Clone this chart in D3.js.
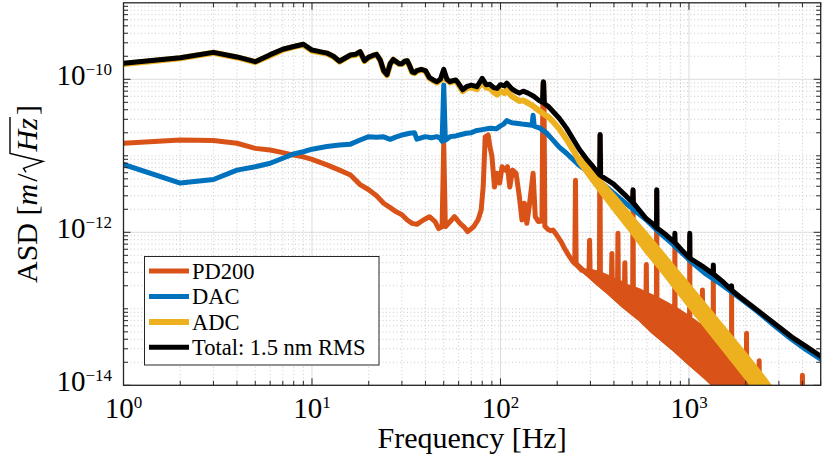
<!DOCTYPE html>
<html>
<head>
<meta charset="utf-8">
<script src="https://cdn.jsdelivr.net/npm/d3@7"></script>
<style>
  body { margin: 0; background: #fff; }
  svg, svg text { font-family: "Liberation Serif", "DejaVu Serif", "Times New Roman", Times, serif; }
</style>
</head>
<body>
<div id="chart"></div>
<script>
// legend entries and colours
const seriesNames = ['PD200', 'DAC', 'ADC', 'Total: 1.5 nm RMS'];
const seriesColors = ['#D95319', '#0072BD', '#EDB120', '#000000'];

// tick labels (10^n)
const xTickValues = [1, 10, 100, 1000];
const xTickExponents = ['0', '1', '2', '3'];
const yTickValues = [1e-14, 1e-12, 1e-10];
const yTickExponents = ['\u221214', '\u221212', '\u221210'];

// PD200 noise ASD [Hz, m/sqrt(Hz)] (lower edge above ~240 Hz)
const pd200 = [
  [1, 1.46e-11], [2, 1.61e-11], [3, 1.59e-11], [4, 1.46e-11], [5, 1.25e-11], [6, 1.19e-11],
  [7, 1.1e-11], [8, 1.02e-11], [9, 9.7e-12], [10, 9.0e-12], [12, 7.6e-12], [14, 6.5e-12],
  [16, 5.6e-12], [18, 4.2e-12], [20, 3.6e-12], [22, 3.0e-12], [24, 2.4e-12], [26, 2.1e-12],
  [28, 1.85e-12], [30, 1.7e-12], [32, 1.45e-12], [34, 1.31e-12], [36, 1.27e-12], [39, 1.45e-12],
  [42, 1.6e-12], [45, 1.38e-12], [47, 1.12e-12], [49, 1.18e-12], [50, 1.46e-11], [51, 1.18e-12],
  [55, 1.45e-12], [57, 1.6e-12], [61, 1.31e-12], [64, 1.18e-12], [67, 1.02e-12], [72, 1.18e-12],
  [76, 1.45e-12], [79, 1.95e-12], [81, 4.0e-12], [83, 1.77e-11], [86, 1.87e-11], [88, 1.3e-11],
  [90, 1.0e-11], [93, 3.9e-12], [96, 5.9e-12], [99, 4.4e-12], [102, 7.2e-12], [106, 6.5e-12],
  [109, 7.2e-12], [112, 3.9e-12], [116, 6.5e-12], [121, 5.9e-12], [126, 2.9e-12], [130, 1.45e-12],
  [134, 2.4e-12], [138, 1.31e-12], [142, 2.15e-12], [149, 5.9e-12], [153, 1.6e-12], [159, 1.38e-12],
  [166, 1.4e-12], [168, 8.9e-11], [170, 8.9e-11], [172, 1.2e-12], [178, 1.1e-12], [185, 1.05e-12],
  [190, 1.07e-12], [200, 9.0e-13], [210, 7.5e-13], [220, 6.0e-13], [230, 5.0e-13], [240, 4.3e-13],
  [270, 3.3e-13], [300, 2.65e-13], [330, 2.15e-13], [365, 1.75e-13], [400, 1.43e-13], [450, 1.1e-13],
  [500, 8.9e-14], [550, 7.4e-14], [650, 5.0e-14], [820, 3.1e-14], [1000, 2.0e-14], [1230, 1.28e-14],
  [1400, 9.5e-15], [1600, 7e-15], [2800, 2.5e-15], [3980, 2e-15], [4000, 1.35e-14], [4020, 2e-15],
  [5000, 1.5e-15]
];
// PD200 upper envelope of the fast fluctuating part, with its spikes
const pd200Peaks = [
  [240, 4.3e-13], [248, 3.9e-13], [250, 4.8e-12], [252, 3.8e-13], [270, 3.2e-13],
  [295, 3.1e-13], [297, 7.9e-13], [299, 3.1e-13], [335, 2.9e-13], [337, 1.87e-11], [339, 2.85e-13],
  [370, 2.6e-13], [388, 2.45e-13], [390, 5.3e-13], [392, 2.45e-13], [418, 2.25e-13], [420, 9.7e-13],
  [422, 2.25e-13], [455, 2.05e-13], [457, 4.0e-13], [459, 2.0e-13], [503, 1.85e-13], [505, 3.5e-12],
  [507, 1.84e-13], [550, 1.7e-13], [592, 1.55e-13], [594, 3.8e-13], [596, 1.55e-13], [672, 1.35e-13],
  [674, 3.5e-12], [676, 1.35e-13], [760, 1.15e-13], [840, 1.0e-13], [842, 8e-13], [844, 1.0e-13],
  [1008, 7.5e-14], [1010, 9e-13], [1012, 7.5e-14], [1177, 5.6e-14], [1179, 1.76e-13], [1181, 5.6e-14],
  [1345, 4.4e-14], [1347, 3.6e-13], [1349, 4.4e-14], [1682, 2.8e-14], [1684, 1.9e-13], [1686, 2.8e-14],
  [2019, 1.9e-14], [2021, 4.8e-14], [2023, 1.9e-14], [2356, 1.3e-14], [2358, 2.1e-14], [2360, 1.3e-14],
  [2800, 8.6e-15]
];

// DAC noise ASD
const dac = [
  [1, 7.7e-12], [2, 4.4e-12], [3, 4.9e-12], [4, 6.5e-12], [5, 7.2e-12], [6, 8.0e-12], [7, 9.3e-12],
  [8, 1.06e-11], [9, 1.13e-11], [10, 1.22e-11], [12, 1.32e-11], [14, 1.38e-11], [16, 1.42e-11],
  [18, 1.61e-11], [20, 1.78e-11], [22, 1.75e-11], [24, 1.77e-11], [26, 1.64e-11], [28, 1.77e-11],
  [30, 1.87e-11], [33, 1.97e-11], [35, 2.0e-11], [36, 1.65e-11], [38, 1.72e-11], [40, 1.78e-11],
  [43, 1.72e-11], [46, 1.78e-11], [48, 1.7e-11], [49, 1.55e-11], [50, 8.4e-11], [51, 1.6e-11],
  [54, 1.78e-11], [58, 1.82e-11], [62, 1.9e-11], [66, 1.97e-11], [70, 2.0e-11], [74, 2.13e-11],
  [80, 2.2e-11], [88, 2.29e-11], [95, 2.25e-11], [100, 2.46e-11], [104, 2.6e-11], [108, 2.88e-11],
  [115, 2.7e-11], [121, 2.66e-11], [130, 2.6e-11], [140, 2.55e-11], [147, 2.5e-11], [149, 3.4e-11],
  [151, 2.45e-11], [162, 2.3e-11], [175, 2.0e-11], [190, 1.6e-11], [205, 1.3e-11], [224, 1.08e-11],
  [260, 7.6e-12], [300, 5.87e-12], [350, 4.27e-12], [400, 3.22e-12], [500, 2.04e-12], [600, 1.42e-12],
  [700, 9.8e-13], [820, 7.0e-13], [1015, 4.25e-13], [1230, 2.85e-13], [1500, 2.05e-13], [1860, 1.38e-13],
  [2300, 9.3e-14], [2920, 5.7e-14], [3500, 4.0e-14], [4200, 2.9e-14], [5000, 2.2e-14]
];

// ADC noise ASD (lower edge above ~263 Hz)
const adc = [
  [1, 1.58e-10], [2, 1.88e-10], [3, 2.22e-10], [4, 1.93e-10], [5, 1.68e-10], [6, 2.05e-10],
  [7, 2.42e-10], [8, 2.65e-10], [9, 2.82e-10], [10, 2.36e-10], [11, 2.25e-10], [12, 2.17e-10],
  [13, 1.97e-10], [14, 1.7e-10], [15, 1.88e-10], [16, 2.05e-10], [17, 2.08e-10], [18, 2.27e-10],
  [19, 1.73e-10], [20, 1.93e-10], [21, 2.02e-10], [22, 2.1e-10], [23, 1.78e-10], [24, 1.28e-10],
  [25, 1.13e-10], [26, 1.58e-10], [27, 1.8e-10], [28, 1.68e-10], [29, 1.58e-10], [30, 1.58e-10],
  [31, 1.7e-10], [32, 1.73e-10], [33, 1.48e-10], [34, 1.23e-10], [35, 1.2e-10], [36, 1.28e-10],
  [38, 1.33e-10], [40, 1.28e-10], [42, 1.03e-10], [44, 9.6e-11], [46, 9.1e-11], [48, 9.8e-11],
  [50, 1.05e-10], [52, 9.8e-11], [54, 9.1e-11], [56, 9.4e-11], [58, 9.6e-11], [60, 8.5e-11],
  [63, 7.0e-11], [66, 7.6e-11], [70, 7.9e-11], [75, 7.4e-11], [80, 9.4e-11], [84, 7.8e-11],
  [88, 7.6e-11], [92, 6.8e-11], [96, 6.3e-11], [100, 7.0e-11], [105, 6.6e-11], [108, 7.2e-11],
  [115, 6.0e-11], [120, 5.6e-11], [126, 5.2e-11], [132, 5.3e-11], [140, 4.9e-11], [150, 4.4e-11],
  [160, 3.9e-11], [170, 3.5e-11], [180, 3.2e-11], [190, 2.8e-11], [205, 2.25e-11], [224, 1.65e-11],
  [245, 1.15e-11], [263, 8.4e-12], [300, 5.4e-12], [350, 3.25e-12], [400, 2.1e-12], [500, 1.04e-12],
  [600, 5.7e-13], [700, 3.6e-13], [800, 2.35e-13], [1000, 1.16e-13], [1250, 5.8e-14], [1500, 3.3e-14],
  [2000, 1.35e-14], [2500, 6.8e-15], [2800, 4.5e-15]
];
// ADC upper envelope of the fluctuating part
const adcPeaks = [
  [263, 9.2e-12], [300, 6.6e-12], [350, 4.2e-12], [400, 2.9e-12], [500, 1.5e-12], [600, 8.8e-13],
  [700, 5.6e-13], [800, 3.75e-13], [1000, 1.93e-13], [1250, 9.9e-14], [1500, 5.7e-14],
  [2000, 2.4e-14], [2500, 1.2e-14], [2800, 8e-15]
];

// total noise ASD
const total = [
  [1, 1.62e-10], [2, 1.91e-10], [3, 2.25e-10], [4, 1.96e-10], [5, 1.70e-10], [6, 2.1e-10],
  [7, 2.47e-10], [8, 2.68e-10], [9, 2.87e-10], [10, 2.41e-10], [11, 2.3e-10], [12, 2.2e-10],
  [13, 2.0e-10], [14, 1.72e-10], [15, 1.9e-10], [16, 2.08e-10], [17, 2.12e-10], [18, 2.3e-10],
  [19, 1.75e-10], [20, 1.95e-10], [21, 2.05e-10], [22, 2.12e-10], [23, 1.8e-10], [24, 1.3e-10],
  [25, 1.15e-10], [26, 1.6e-10], [27, 1.82e-10], [28, 1.7e-10], [29, 1.6e-10], [30, 1.6e-10],
  [31, 1.72e-10], [32, 1.75e-10], [33, 1.5e-10], [34, 1.25e-10], [35, 1.22e-10], [36, 1.3e-10],
  [38, 1.35e-10], [40, 1.3e-10], [42, 1.05e-10], [44, 9.8e-11], [46, 9.3e-11], [48, 1.0e-10],
  [50, 1.35e-10], [52, 1.0e-10], [54, 9.3e-11], [56, 9.6e-11], [58, 9.8e-11], [60, 8.8e-11],
  [63, 7.3e-11], [66, 8.0e-11], [70, 8.4e-11], [75, 8.0e-11], [80, 1.03e-10], [84, 8.5e-11],
  [88, 8.6e-11], [92, 7.8e-11], [96, 7.6e-11], [100, 8.5e-11], [105, 8.2e-11], [108, 8.9e-11],
  [115, 7.5e-11], [120, 7.0e-11], [126, 6.6e-11], [132, 7.0e-11], [140, 6.6e-11], [150, 6.0e-11],
  [160, 5.3e-11], [167, 5.0e-11], [169, 9.3e-11], [171, 4.8e-11], [180, 4.4e-11], [190, 3.8e-11],
  [205, 3.1e-11], [224, 2.3e-11], [245, 1.6e-11], [263, 1.2e-11], [285, 9.2e-12], [310, 7.2e-12],
  [336, 5.6e-12], [338, 1.9e-11], [340, 5.5e-12], [397, 4.3e-12], [450, 3.2e-12], [503, 2.45e-12],
  [505, 3.6e-12], [507, 2.43e-12], [550, 1.9e-12], [594, 1.5e-12], [640, 1.3e-12], [673, 1.15e-12],
  [675, 3.6e-12], [677, 1.14e-12], [750, 9.4e-13], [840, 7.4e-13], [842, 9.7e-13], [844, 7.3e-13],
  [920, 5.8e-13], [1008, 4.6e-13], [1010, 9.7e-13], [1012, 4.58e-13], [1200, 3.5e-13],
  [1345, 2.86e-13], [1347, 3.74e-13], [1349, 2.85e-13], [1500, 2.3e-13], [1682, 1.76e-13],
  [1684, 2.0e-13], [1686, 1.75e-13], [1860, 1.44e-13], [2200, 1.05e-13], [2920, 6.1e-14],
  [3500, 4.3e-14], [4200, 3.2e-14], [5000, 2.4e-14]
];

const width = 823, height = 466;
const margin = { top: 2.8, right: 2.3, bottom: 80.7, left: 123.5 };
const plotW = width - margin.left - margin.right;
const plotH = height - margin.top - margin.bottom;
const serif = '"Liberation Serif", "DejaVu Serif", "Times New Roman", serif';

const svg = d3.select('#chart').append('svg')
  .attr('width', width)
  .attr('height', height)
  .attr('font-family', serif);

const x = d3.scaleLog().domain([1, 5000]).range([margin.left, margin.left + plotW]);
const y = d3.scaleLog().domain([1e-14, 1e-9]).range([margin.top + plotH, margin.top]);

svg.append('defs').append('clipPath').attr('id', 'plot-clip')
  .append('rect')
  .attr('x', margin.left).attr('y', margin.top)
  .attr('width', plotW).attr('height', plotH);

// minor / major tick positions
const xMinor = [];
[1, 10, 100, 1000].forEach(d => { for (let k = 2; k <= 9; k++) if (k * d <= 5000) xMinor.push(k * d); });
const yMinor = [];
for (let e = -14; e <= -10; e++) {
  for (let k = 1; k <= 9; k++) {
    const v = k * Math.pow(10, e);
    if (!(k === 1 && e % 2 === 0) && v < 1e-9 * 1.01) yMinor.push(v);
  }
}

// grid
const grid = svg.append('g');
grid.selectAll('.xminor').data(xMinor).join('line')
  .attr('x1', d => x(d)).attr('x2', d => x(d))
  .attr('y1', margin.top).attr('y2', margin.top + plotH)
  .attr('stroke', '#c4c4c4').attr('stroke-width', 0.9).attr('stroke-dasharray', '1,2.5');
grid.selectAll('.yminor').data(yMinor).join('line')
  .attr('y1', d => y(d)).attr('y2', d => y(d))
  .attr('x1', margin.left).attr('x2', margin.left + plotW)
  .attr('stroke', '#c4c4c4').attr('stroke-width', 0.9).attr('stroke-dasharray', '1,2.5');
grid.selectAll('.xmajor').data(xTickValues).join('line')
  .attr('x1', d => x(d)).attr('x2', d => x(d))
  .attr('y1', margin.top).attr('y2', margin.top + plotH)
  .attr('stroke', '#dcdcdc').attr('stroke-width', 1);
grid.selectAll('.ymajor').data(yTickValues).join('line')
  .attr('y1', d => y(d)).attr('y2', d => y(d))
  .attr('x1', margin.left).attr('x2', margin.left + plotW)
  .attr('stroke', '#dcdcdc').attr('stroke-width', 1);

// curves
const plot = svg.append('g').attr('clip-path', 'url(#plot-clip)');
const line = d3.line().x(d => x(d[0])).y(d => y(d[1]));

function band(lower, upper, color, w) {
  const f0 = upper[0][0], f1 = upper[upper.length - 1][0];
  const pts = lower.filter(d => d[0] >= f0 && d[0] <= f1).concat(upper.slice().reverse());
  plot.append('path')
    .attr('d', line(pts) + 'Z')
    .attr('fill', color).attr('stroke', color)
    .attr('stroke-width', w).attr('stroke-linejoin', 'round');
}
function curve(data, color, w) {
  plot.append('path')
    .attr('d', line(data))
    .attr('fill', 'none').attr('stroke', color)
    .attr('stroke-width', w).attr('stroke-linejoin', 'round').attr('stroke-linecap', 'round');
}

const widths = [5, 5, 6, 5];
band(pd200, pd200Peaks, seriesColors[0], widths[0]);
curve(pd200, seriesColors[0], widths[0]);
curve(dac, seriesColors[1], widths[1]);
band(adc, adcPeaks, seriesColors[2], widths[2]);
curve(adc, seriesColors[2], widths[2]);
curve(total, seriesColors[3], widths[3]);

// ticks on all four sides, pointing inward
const axisColor = '#262626';
const ticks = svg.append('g').attr('stroke', axisColor).attr('stroke-width', 1);
const majorLen = 7, minorLen = 4.5;
function xTicks(vals, len) {
  vals.forEach(v => {
    ticks.append('line').attr('x1', x(v)).attr('x2', x(v))
      .attr('y1', margin.top + plotH).attr('y2', margin.top + plotH - len);
    ticks.append('line').attr('x1', x(v)).attr('x2', x(v))
      .attr('y1', margin.top).attr('y2', margin.top + len);
  });
}
function yTicks(vals, len) {
  vals.forEach(v => {
    ticks.append('line').attr('y1', y(v)).attr('y2', y(v))
      .attr('x1', margin.left).attr('x2', margin.left + len);
    ticks.append('line').attr('y1', y(v)).attr('y2', y(v))
      .attr('x1', margin.left + plotW).attr('x2', margin.left + plotW - len);
  });
}
xTicks(xTickValues, majorLen);
xTicks(xMinor, minorLen);
yTicks(yTickValues, majorLen);
yTicks(yMinor, minorLen);

svg.append('rect')
  .attr('x', margin.left).attr('y', margin.top)
  .attr('width', plotW).attr('height', plotH)
  .attr('fill', 'none').attr('stroke', axisColor).attr('stroke-width', 1.3);

// tick labels
const xl = svg.append('g').attr('font-size', 29).attr('text-anchor', 'middle').attr('fill', '#000');
xTickValues.forEach((v, i) => {
  const t = xl.append('text').attr('x', x(v)).attr('y', 418);
  t.append('tspan').text('10');
  t.append('tspan').attr('font-size', 17).attr('dy', -10).text(xTickExponents[i]);
});
const yl = svg.append('g').attr('font-size', 29).attr('text-anchor', 'end').attr('fill', '#000');
yTickValues.forEach((v, i) => {
  const t = yl.append('text').attr('x', 112).attr('y', y(v) + 6);
  t.append('tspan').text('10');
  t.append('tspan').attr('font-size', 17).attr('dy', -10).text(yTickExponents[i]);
});

// axis titles
svg.append('text')
  .attr('x', margin.left + plotW / 2).attr('y', 448)
  .attr('text-anchor', 'middle').attr('font-size', 30)
  .text('Frequency [Hz]');

const yTitle = svg.append('g').attr('transform', `translate(37,${margin.top + plotH / 2}) rotate(-90)`);
const yInner = yTitle.append('g');
const yt = yInner.append('text').attr('font-size', 30);
yt.append('tspan').text('ASD [');
yt.append('tspan').attr('font-style', 'italic').text('m');
yt.append('tspan').attr('dx', 2).text('/');
yt.append('tspan').attr('font-style', 'italic').attr('dx', 22).text('Hz');
yt.append('tspan').attr('dx', 3).text(']');
const ytNode = yt.node();
const iH = ytNode.textContent.indexOf('H');
const hStart = ytNode.getStartPositionOfChar(iH).x;
const zEnd = ytNode.getEndPositionOfChar(iH + 1).x;
yInner.append('path')
  .attr('d', `M${hStart - 21},-11 L${hStart - 17},-13.5 L${hStart - 10},6 L${hStart - 2},-27 L${zEnd + 1},-27`)
  .attr('fill', 'none').attr('stroke', '#000').attr('stroke-width', 1.4)
  .attr('stroke-linejoin', 'miter');
const bb = yInner.node().getBBox();
yInner.attr('transform', `translate(${-(bb.x + bb.width / 2)},0)`);

// legend
const legend = svg.append('g');
legend.append('rect')
  .attr('x', 144.5).attr('y', 256.5).attr('width', 234.5).attr('height', 108.5)
  .attr('fill', '#fff').attr('stroke', axisColor).attr('stroke-width', 1);
const legendY = [271, 296.5, 322, 347.3];
seriesNames.forEach((name, i) => {
  legend.append('line')
    .attr('x1', 149).attr('x2', 189).attr('y1', legendY[i]).attr('y2', legendY[i])
    .attr('stroke', seriesColors[i]).attr('stroke-width', widths[i]);
  legend.append('text')
    .attr('x', 192).attr('y', legendY[i] + 7.5)
    .attr('font-size', 22.5)
    .text(name);
});
</script>
</body>
</html>
